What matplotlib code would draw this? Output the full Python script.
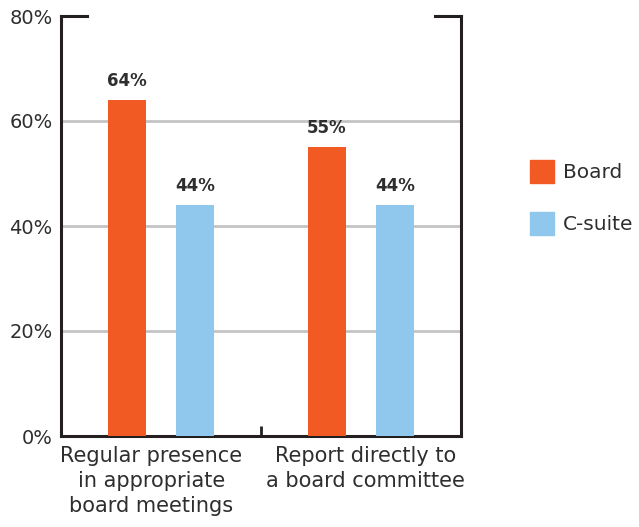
import matplotlib.pyplot as plt
import matplotlib.patches as mpatches
import matplotlib.transforms as mtransforms
import numpy as np

# Дані графіка
categories = ['Regular presence\nin appropriate\nboard meetings', 'Report directly to\na board committee']
board = [64, 55]
csuite = [44, 44]
series_names = ['Board', 'C-suite']
yticks = [0, 20, 40, 60, 80]

ORANGE = '#F15A22'
BLUE = '#8FC8EC'
DARK = '#231F20'
TEXT = '#2E2E2E'

plt.rcParams['font.family'] = ['DejaVu Sans']

fig = plt.figure(figsize=(6.39, 5.27), dpi=100)
ax = fig.add_axes([61 / 639, 1 - 436 / 527, 400 / 639, 420 / 527])

x = np.arange(len(categories))
w = 0.19
off = 0.17
b1 = ax.bar(x - off, board, w, color=ORANGE, zorder=3)
b2 = ax.bar(x + off, csuite, w, color=BLUE, zorder=3)

# Підписи значень
for bars in (b1, b2):
    for r in bars:
        ax.text(r.get_x() + r.get_width() / 2, r.get_height() + 1.9, f'{r.get_height():.0f}%',
                ha='center', va='bottom', fontsize=12, fontweight='bold', color=TEXT)

ax.set_xlim(-0.5, 1.5)
ax.set_ylim(0, 80)
ax.set_yticks(yticks)
ax.set_yticklabels([f'{v}%' for v in yticks], fontsize=14, color=TEXT)
ax.tick_params(axis='y', length=0, pad=6)
ax.set_xticks(x)
ax.set_xticklabels(categories, fontsize=15, color=TEXT, linespacing=1.33)
ax.tick_params(axis='x', which='major', length=0, pad=7)
ax.set_xticks([0.5], minor=True)
ax.tick_params(axis='x', which='minor', direction='in', length=7.5, width=2, color=DARK)

# трохи зсуваємо підписи категорій, як в оригіналі
for lbl, dx in zip(ax.get_xticklabels(), [-7, 3]):
    lbl.set_transform(lbl.get_transform() + mtransforms.ScaledTranslation(dx / 72, 0, fig.dpi_scale_trans))

for v in yticks[1:-1]:
    ax.axhline(v, color='#C4C4C6', lw=2, zorder=1)

for s in ('left', 'right', 'bottom'):
    ax.spines[s].set_color(DARK)
    ax.spines[s].set_linewidth(2.2)
ax.spines['top'].set_visible(False)
# верхня рамка лише по кутах
ax.plot([0, 0.065], [1, 1], transform=ax.transAxes, color=DARK, lw=2.2, clip_on=False, solid_capstyle='projecting')
ax.plot([0.935, 1], [1, 1], transform=ax.transAxes, color=DARK, lw=2.2, clip_on=False, solid_capstyle='projecting')

handles = [mpatches.Patch(color=ORANGE), mpatches.Patch(color=BLUE)]
fig.legend(handles, series_names, loc='upper left', bbox_to_anchor=(512 / 639, 1 - 142 / 527),
           frameon=False, fontsize=14.5, handlelength=1.2, handleheight=1.35, labelspacing=1.45,
           handletextpad=0.45, labelcolor=TEXT)

fig.savefig('out.png', dpi=100)
